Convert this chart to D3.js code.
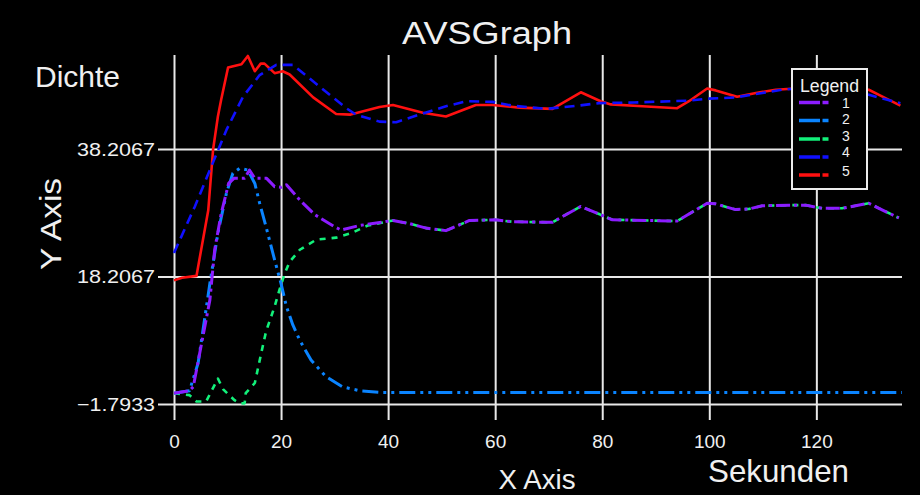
<!DOCTYPE html>
<html>
<head>
<meta charset="utf-8">
<script src="https://cdn.jsdelivr.net/npm/d3@7"></script>
<style>
  html, body { margin: 0; padding: 0; background: #000; }
  svg { display: block; }
  text { font-family: "Liberation Sans", Arial, Helvetica, sans-serif; fill: #f0f0f0; }
</style>
</head>
<body>
<svg id="chart" width="920" height="495"></svg>
<script>
// ---- data ----
const xTickValues = [0, 20, 40, 60, 80, 100, 120];
const yTickValues = [-1.7933, 18.2067, 38.2067];
const yTickLabels = ["\u22121.7933", "18.2067", "38.2067"];
const seriesNames = ["1", "2", "3", "4", "5"];

const series1 = [[0,-0.1],[2.9,0.3],[3.6,0.9],[5.4,8.8],[6.7,14.5],[7.6,22.4],[8.8,28.0],[10.2,32.8],[11.2,33.6],[13.2,33.6],[14.1,34.9],[15.1,33.6],[17.3,33.6],[18.8,32.3],[20,32.2],[21,32.6],[23.5,30.2],[26.3,27.9],[30,26.0],[31.2,25.5],[34.6,26.2],[37.8,26.6],[40.9,27.0],[44,26.5],[47.1,25.8],[50.8,25.4],[53.3,26.3],[55.2,27.0],[60.1,27.1],[63.2,26.8],[70.7,26.7],[73.2,27.9],[76,29.2],[79.4,28.0],[81.9,27.1],[94,26.9],[96.2,28.0],[99.6,29.7],[101.2,29.6],[104.9,28.7],[107.4,28.8],[109.9,29.3],[114.9,29.4],[118,29.4],[121.1,28.9],[124.8,28.9],[129.8,29.7],[131.7,28.9],[135.4,27.4]];

const series2 = [[0,-0.1],[2.9,0.3],[4.5,4.6],[6.7,17.1],[8.2,25.0],[9.8,31.3],[11.0,34.4],[12.3,35.2],[13.8,34.9],[15.1,32.8],[16.0,29.7],[17.2,26.0],[18.8,20.8],[20.0,17.1],[21,13.5],[22.2,10.6],[23.5,8.2],[25.6,5.1],[28.4,2.5],[31.5,0.9],[34.6,0.3],[39,0.0],[136,0.0]];

const series3 = [[0,-0.1],[2.9,-0.4],[4.2,-1.4],[6.0,-1.4],[8.2,2.2],[9.2,0.5],[11.3,-1.2],[12.3,-1.7],[13.2,-1.7],[13.4,-0.1],[15.1,1.5],[16.3,6.2],[17.2,9.6],[18.8,13.5],[19.7,16.1],[20.7,18.7],[21.6,20.5],[23.5,22.4],[26.6,24.0],[30.3,24.3],[33.1,25.0],[36.2,26.2],[40.9,27.0],[44,26.5],[47.1,25.8],[50.8,25.4],[53.3,26.3],[55.2,27.0],[60.1,27.1],[63.2,26.8],[70.7,26.7],[73.2,27.9],[76,29.2],[79.4,28.0],[81.9,27.1],[94,26.9],[96.2,28.0],[99.6,29.7],[101.2,29.6],[104.9,28.7],[107.4,28.8],[109.9,29.3],[114.9,29.4],[118,29.4],[121.1,28.9],[124.8,28.9],[129.8,29.7],[131.7,28.9],[135.4,27.4]];

const series4 = [[0,21.9],[3.9,29.2],[6.7,34.9],[9.8,41.2],[12.9,46.4],[16,49.8],[19.1,51.4],[22.2,51.4],[27.2,48.0],[32.2,44.6],[34,43.6],[38.4,42.5],[41.5,42.4],[45.8,43.6],[50.8,44.9],[54.6,45.7],[59.5,45.6],[63.2,45.0],[69.5,44.5],[74.4,44.9],[79.4,45.4],[86,45.5],[96.2,45.8],[99.9,46.1],[104.9,46.3],[109.9,47.0],[113.6,47.5],[118,47.8],[124,47.6],[129.8,46.7],[135.7,45.4]];

const series5 = [[0,17.6],[1.5,18.0],[4.2,18.3],[6.4,28.6],[7.3,38.1],[8.2,43.3],[8.8,45.9],[10.1,51.0],[12.6,51.5],[13.8,52.8],[15.1,50.4],[16.2,51.6],[16.9,51.6],[18.8,50.1],[20.3,50.4],[21.6,49.9],[26,46.3],[30.3,43.7],[33,43.6],[38.4,44.8],[40.9,45.1],[46.5,43.9],[50.8,43.3],[56.4,45.1],[59.5,45.1],[64.5,44.7],[70.7,44.5],[76,47.1],[79.7,45.7],[81.6,45.2],[87.5,44.9],[94,44.6],[96.2,45.7],[99.6,47.7],[101.2,47.4],[105.2,46.4],[108.7,47.0],[112.4,47.5],[116,47.7],[121,47.8],[126,47.8],[129.8,47.5],[131.7,46.7],[135.7,45.0]];

const seriesColors = ["#8c1cff", "#0a84ff", "#12f07a", "#1010ff", "#ff1010"];
const seriesDash = ["14,4,3,4", "16,5,3,5,3,5", "6,6", "10,6", null];
const seriesWidth = [3, 3, 2.6, 2.6, 2.6];

// ---- layout ----
const svg = d3.select("#chart");
const plotLeft = 174, plotRight = 902, plotTop = 55, plotBottom = 404;
const x = d3.scaleLinear().domain([0, 136]).range([plotLeft, plotRight]);
const y = d3.scaleLinear().domain([-1.7933, 52.95]).range([plotBottom, plotTop]);

svg.append("rect").attr("width", 920).attr("height", 495).attr("fill", "#000");

// vertical grid + x labels
const gx = svg.append("g").attr("transform", "translate(0,420)")
  .call(d3.axisBottom(x).tickValues(xTickValues).tickSize(-(420 - plotTop)).tickPadding(15).tickFormat(d3.format("d")));
gx.select(".domain").remove();
gx.selectAll("line").attr("stroke", "#e8e8e8").attr("stroke-width", 2);
gx.selectAll("text").attr("font-size", 19).attr("fill", "#f0f0f0")
  .style("font-family", "'Liberation Sans', Arial, sans-serif");

// horizontal grid + y labels
const gy = svg.append("g").attr("transform", "translate(158,0)")
  .call(d3.axisLeft(y).tickValues(yTickValues).tickSize(-(plotRight - 158)).tickPadding(3)
    .tickFormat((d, i) => yTickLabels[i]));
gy.select(".domain").remove();
gy.selectAll("line").attr("stroke", "#e8e8e8").attr("stroke-width", 2);
gy.selectAll("text").attr("font-size", 19).attr("fill", "#f0f0f0")
  .attr("textLength", 78).attr("lengthAdjust", "spacingAndGlyphs")
  .style("font-family", "'Liberation Sans', Arial, sans-serif");

// series lines (drawn in reverse order so series 1 is on top)
const allSeries = [series1, series2, series3, series4, series5];
const line = d3.line().x(d => x(d[0])).y(d => y(d[1]));
for (let i = allSeries.length - 1; i >= 0; i--) {
  const p = svg.append("path").datum(allSeries[i])
    .attr("d", line)
    .attr("fill", "none")
    .attr("stroke", seriesColors[i])
    .attr("stroke-width", seriesWidth[i])
    .attr("stroke-linejoin", "round");
  if (seriesDash[i]) p.attr("stroke-dasharray", seriesDash[i]);
}

// legend
const lg = svg.append("g");
lg.append("rect").attr("x", 792).attr("y", 69).attr("width", 75).attr("height", 120)
  .attr("fill", "#000").attr("stroke", "#ececec").attr("stroke-width", 2);
lg.append("text").attr("x", 800).attr("y", 92).attr("font-size", 18)
  .attr("textLength", 59).attr("lengthAdjust", "spacingAndGlyphs")
  .attr("fill", "#e0e0e0").style("font-weight", 300).text("Legend");
const lineYs = [102.5, 120.5, 139, 157, 175];
const numYs = [108, 124, 141, 157, 176];
seriesNames.forEach((name, i) => {
  lg.append("line").attr("x1", 799).attr("x2", 820).attr("y1", lineYs[i]).attr("y2", lineYs[i])
    .attr("stroke", seriesColors[i]).attr("stroke-width", 3.5);
  lg.append("line").attr("x1", 822.5).attr("x2", 828.5).attr("y1", lineYs[i]).attr("y2", lineYs[i])
    .attr("stroke", seriesColors[i]).attr("stroke-width", 3.5);
  lg.append("text").attr("x", 846).attr("y", numYs[i]).attr("font-size", 14)
    .attr("text-anchor", "middle").attr("fill", "#e8e8e8").text(name);
});

// titles
svg.append("text").attr("x", 487).attr("y", 44).attr("text-anchor", "middle")
  .attr("font-size", 31).attr("textLength", 170).attr("lengthAdjust", "spacingAndGlyphs").text("AVSGraph");
svg.append("text").attr("x", 35).attr("y", 87).attr("font-size", 30).text("Dichte");
svg.append("text").attr("transform", "translate(61,224) rotate(-90)").attr("text-anchor", "middle")
  .attr("font-size", 30).attr("textLength", 92).attr("lengthAdjust", "spacingAndGlyphs").text("Y Axis");
svg.append("text").attr("x", 537).attr("y", 489).attr("text-anchor", "middle")
  .attr("font-size", 27).attr("textLength", 77).attr("lengthAdjust", "spacingAndGlyphs").text("X Axis");
svg.append("text").attr("x", 708).attr("y", 482).attr("font-size", 32)
  .attr("textLength", 141).attr("lengthAdjust", "spacingAndGlyphs").text("Sekunden");
</script>
</body>
</html>
